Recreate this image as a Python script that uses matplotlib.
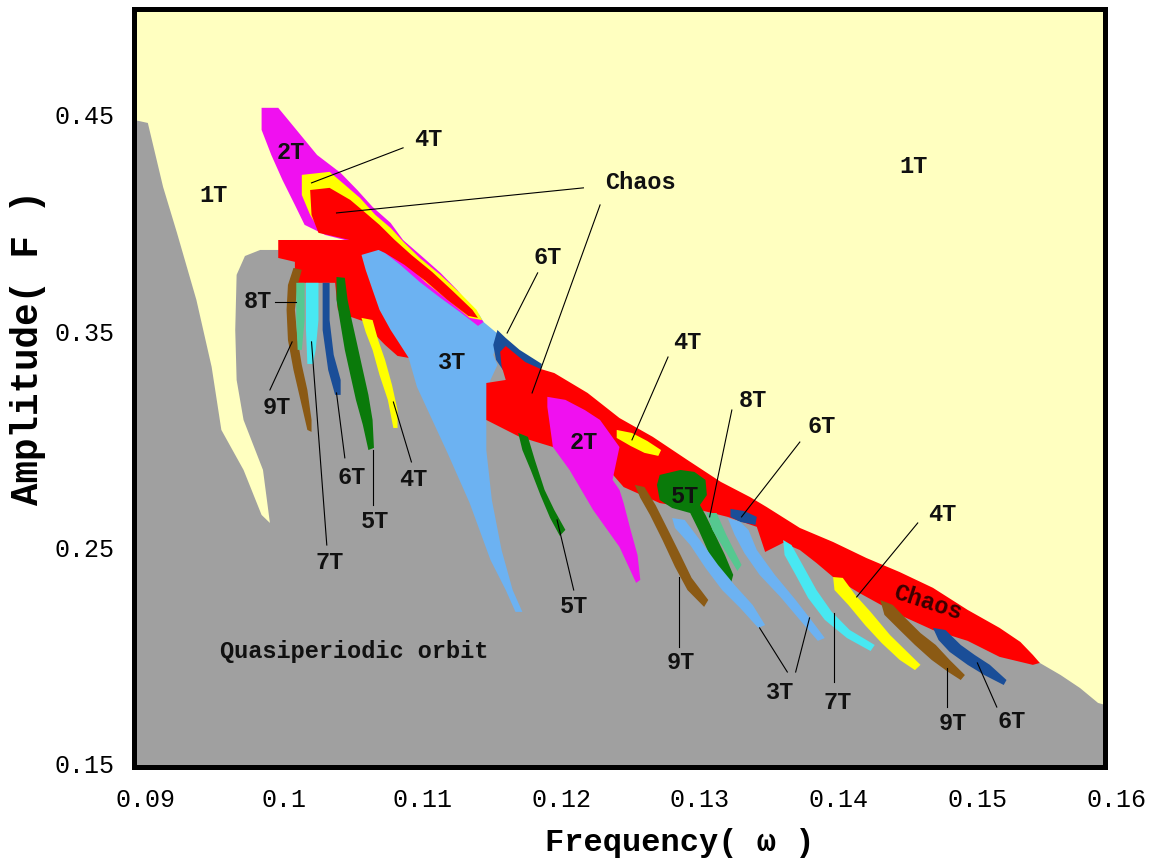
import matplotlib
matplotlib.use("Agg")
import matplotlib.pyplot as plt
from matplotlib.transforms import blended_transform_factory

# === Colours of the orbit types ===
PALE = "#FFFFC0"     # 1T background
GRAY = "#A0A0A0"     # quasiperiodic
RED = "#FF0000"      # chaos
MAGENTA = "#F010F0"  # 2T
YELLOW = "#FFFF00"   # 4T
LBLUE = "#6CB2F2"    # 3T
DBLUE = "#1A4E98"    # 6T
GREEN = "#0A7A0A"    # 5T
MINT = "#55C890"     # 8T
CYAN = "#48E8F2"     # 7T
BROWN = "#8B5A14"    # 9T

# === Region outlines, (omega, F) pairs ===
quasi = [(0.0892, 0.4477), (0.0902, 0.4463), (0.0913, 0.4167), (0.0923, 0.3955), (0.0937, 0.3645),
         (0.0948, 0.3335), (0.0955, 0.3044), (0.0971, 0.2859), (0.0984, 0.2651), (0.0990, 0.2614),
         (0.0985, 0.2859), (0.0971, 0.3090), (0.0966, 0.3275), (0.0965, 0.3506), (0.0966, 0.3761),
         (0.0972, 0.3848), (0.0983, 0.3876), (0.1005, 0.3876), (0.1073, 0.3899), (0.1141, 0.3562),
         (0.1156, 0.3437), (0.1178, 0.3206), (0.1228, 0.3044), (0.1300, 0.2767), (0.1372, 0.2535),
         (0.1444, 0.2281), (0.1516, 0.2073), (0.1545, 0.1967), (0.1560, 0.1911), (0.1574, 0.1851),
         (0.1587, 0.1782), (0.1592, 0.1773), (0.1592, 0.1486), (0.0892, 0.1486)]

blue_3t = [(0.1056, 0.3890), (0.1073, 0.3876), (0.1098, 0.3821), (0.1120, 0.3714), (0.1141, 0.3576),
           (0.1144, 0.3543), (0.1156, 0.3479), (0.1154, 0.3437), (0.1151, 0.3391), (0.1154, 0.3344),
           (0.1149, 0.3275), (0.1146, 0.3183), (0.1146, 0.3090), (0.1146, 0.2951), (0.1150, 0.2720),
           (0.1157, 0.2489), (0.1165, 0.2304), (0.1172, 0.2203), (0.1167, 0.2203), (0.1160, 0.2304),
           (0.1149, 0.2443), (0.1134, 0.2706), (0.1118, 0.2938), (0.1096, 0.3243), (0.1090, 0.3377),
           (0.1084, 0.3437), (0.1077, 0.3506), (0.1069, 0.3599), (0.1064, 0.3691), (0.1059, 0.3784),
           (0.1056, 0.3853)]

tongue_2t = [(0.0984, 0.4533), (0.0996, 0.4533), (0.1005, 0.4463), (0.1024, 0.4315), (0.1041, 0.4232),
             (0.1053, 0.4153), (0.1064, 0.4075), (0.1077, 0.4001), (0.1086, 0.3922), (0.1100, 0.3844),
             (0.1113, 0.3770), (0.1125, 0.3691), (0.1134, 0.3622), (0.1144, 0.3543), (0.1140, 0.3525),
             (0.1127, 0.3589), (0.1113, 0.3654), (0.1098, 0.3728), (0.1084, 0.3807), (0.1073, 0.3862),
             (0.1062, 0.3899), (0.1044, 0.3922), (0.1030, 0.3945), (0.1015, 0.3992), (0.1008, 0.4084),
             (0.0999, 0.4200), (0.0991, 0.4315), (0.0984, 0.4431)]

tongue_4t = [(0.1013, 0.4223), (0.1033, 0.4237), (0.1044, 0.4177), (0.1055, 0.4116), (0.1066, 0.4038),
             (0.1077, 0.3978), (0.1087, 0.3908), (0.1098, 0.3839), (0.1113, 0.3760), (0.1127, 0.3677),
             (0.1139, 0.3599), (0.1143, 0.3552), (0.1134, 0.3562), (0.1120, 0.3636), (0.1102, 0.3728),
             (0.1087, 0.3821), (0.1073, 0.3876), (0.1062, 0.3918), (0.1044, 0.3941), (0.1026, 0.3964),
             (0.1019, 0.4038), (0.1013, 0.4130)]

tongue_chaos = [(0.1019, 0.4153), (0.1033, 0.4163), (0.1048, 0.4107), (0.1059, 0.4047), (0.1069, 0.3992),
                (0.1080, 0.3922), (0.1092, 0.3853), (0.1107, 0.3774), (0.1121, 0.3691), (0.1136, 0.3599),
                (0.1140, 0.3562), (0.1133, 0.3571), (0.1118, 0.3645), (0.1102, 0.3733), (0.1087, 0.3807),
                (0.1073, 0.3862), (0.1059, 0.3904), (0.1041, 0.3932), (0.1025, 0.3955), (0.1020, 0.4038)]

block_chaos = [(0.0996, 0.3922), (0.1064, 0.3922), (0.1073, 0.3885), (0.1056, 0.3853), (0.1059, 0.3784),
               (0.1064, 0.3691), (0.1069, 0.3599), (0.1077, 0.3506), (0.1084, 0.3437), (0.1090, 0.3377),
               (0.1082, 0.3386), (0.1073, 0.3437), (0.1066, 0.3483), (0.1059, 0.3543), (0.1044, 0.3576),
               (0.1039, 0.3599), (0.1037, 0.3724), (0.1008, 0.3724), (0.1008, 0.3821), (0.0996, 0.3839)]

hook_6t = [(0.1154, 0.3506), (0.1160, 0.3469), (0.1170, 0.3414), (0.1186, 0.3349), (0.1185, 0.3303),
           (0.1170, 0.3312), (0.1158, 0.3321), (0.1153, 0.3368), (0.1151, 0.3437)]

band_chaos = [(0.1146, 0.3261), (0.1160, 0.3275), (0.1157, 0.3340), (0.1156, 0.3405), (0.1160, 0.3432),
              (0.1167, 0.3395), (0.1174, 0.3358), (0.1185, 0.3326), (0.1195, 0.3307), (0.1219, 0.3215),
              (0.1242, 0.3099), (0.1266, 0.3012), (0.1291, 0.2905), (0.1315, 0.2804), (0.1336, 0.2734),
              (0.1348, 0.2688), (0.1372, 0.2591), (0.1396, 0.2526), (0.1420, 0.2452), (0.1444, 0.2387),
              (0.1468, 0.2314), (0.1493, 0.2212), (0.1516, 0.2129), (0.1531, 0.2064), (0.1540, 0.2004),
              (0.1545, 0.1967), (0.1540, 0.1958), (0.1516, 0.1995), (0.1493, 0.2069), (0.1468, 0.2119),
              (0.1444, 0.2189), (0.1432, 0.2230), (0.1415, 0.2290), (0.1396, 0.2364), (0.1384, 0.2429),
              (0.1372, 0.2489), (0.1360, 0.2522), (0.1347, 0.2480), (0.1341, 0.2596), (0.1320, 0.2642),
              (0.1300, 0.2674), (0.1271, 0.2706), (0.1245, 0.2780), (0.1228, 0.2905), (0.1194, 0.2965),
              (0.1170, 0.3012), (0.1146, 0.3090)]

mid_2t = [(0.1190, 0.3197), (0.1203, 0.3183), (0.1217, 0.3136), (0.1228, 0.3090), (0.1242, 0.2965),
          (0.1237, 0.2813), (0.1242, 0.2767), (0.1245, 0.2706), (0.1250, 0.2582), (0.1255, 0.2466),
          (0.1257, 0.2351), (0.1254, 0.2337), (0.1242, 0.2503), (0.1223, 0.2674), (0.1206, 0.2859),
          (0.1194, 0.2965), (0.1190, 0.3150)]

mid_4t = [(0.1240, 0.3044), (0.1251, 0.3030), (0.1262, 0.2993), (0.1272, 0.2951), (0.1270, 0.2924),
          (0.1260, 0.2938), (0.1250, 0.2970), (0.1240, 0.3007)]

mid_5t_blob = [(0.1271, 0.2836), (0.1286, 0.2859), (0.1296, 0.2850), (0.1304, 0.2813), (0.1305, 0.2743),
               (0.1300, 0.2697), (0.1304, 0.2651), (0.1311, 0.2559), (0.1318, 0.2466), (0.1324, 0.2374),
               (0.1322, 0.2327), (0.1316, 0.2360), (0.1307, 0.2466), (0.1299, 0.2582), (0.1293, 0.2660),
               (0.1280, 0.2683), (0.1271, 0.2720), (0.1269, 0.2790)]

mid_8t = [(0.1305, 0.2660), (0.1312, 0.2660), (0.1319, 0.2559), (0.1330, 0.2420), (0.1327, 0.2392),
          (0.1320, 0.2466), (0.1309, 0.2582)]

mid_6t = [(0.1322, 0.2679), (0.1332, 0.2669), (0.1341, 0.2642), (0.1340, 0.2605), (0.1329, 0.2619),
          (0.1322, 0.2642)]

low_3t_a = [(0.1280, 0.2637), (0.1289, 0.2628), (0.1300, 0.2535), (0.1313, 0.2420), (0.1325, 0.2327),
            (0.1338, 0.2235), (0.1347, 0.2142), (0.1342, 0.2129), (0.1329, 0.2221), (0.1316, 0.2304),
            (0.1304, 0.2406), (0.1293, 0.2512), (0.1282, 0.2591)]

low_3t_b = [(0.1320, 0.2637), (0.1329, 0.2619), (0.1335, 0.2582), (0.1341, 0.2489), (0.1354, 0.2374),
            (0.1369, 0.2258), (0.1383, 0.2142), (0.1390, 0.2082), (0.1385, 0.2069), (0.1372, 0.2166),
            (0.1358, 0.2272), (0.1343, 0.2374), (0.1332, 0.2475), (0.1325, 0.2559)]

low_7t = [(0.1360, 0.2535), (0.1366, 0.2512), (0.1374, 0.2420), (0.1384, 0.2304), (0.1395, 0.2203),
          (0.1408, 0.2119), (0.1426, 0.2050), (0.1423, 0.2022), (0.1406, 0.2082), (0.1390, 0.2166),
          (0.1378, 0.2267), (0.1369, 0.2374), (0.1361, 0.2466)]

low_4t = [(0.1396, 0.2364), (0.1403, 0.2360), (0.1412, 0.2281), (0.1423, 0.2203), (0.1437, 0.2096),
          (0.1448, 0.2027), (0.1459, 0.1958), (0.1455, 0.1934), (0.1444, 0.1981), (0.1431, 0.2059),
          (0.1419, 0.2142), (0.1407, 0.2235), (0.1397, 0.2304)]

low_9t = [(0.1430, 0.2258), (0.1439, 0.2235), (0.1448, 0.2175), (0.1459, 0.2105), (0.1470, 0.2050),
          (0.1480, 0.1981), (0.1491, 0.1911), (0.1488, 0.1888), (0.1479, 0.1925), (0.1467, 0.1981),
          (0.1455, 0.2050), (0.1444, 0.2119), (0.1433, 0.2189)]

low_6t = [(0.1468, 0.2129), (0.1477, 0.2119), (0.1488, 0.2050), (0.1498, 0.2004), (0.1509, 0.1958),
          (0.1521, 0.1888), (0.1519, 0.1865), (0.1505, 0.1911), (0.1493, 0.1958), (0.1480, 0.2018),
          (0.1472, 0.2073)]

mid_9t = [(0.1253, 0.2790), (0.1260, 0.2780), (0.1268, 0.2697), (0.1277, 0.2582), (0.1286, 0.2466),
          (0.1294, 0.2360), (0.1306, 0.2258), (0.1303, 0.2226), (0.1291, 0.2304), (0.1282, 0.2411),
          (0.1273, 0.2535), (0.1264, 0.2651), (0.1257, 0.2730)]

mid_5t = [(0.1169, 0.3030), (0.1176, 0.3012), (0.1181, 0.2905), (0.1188, 0.2767), (0.1195, 0.2674),
          (0.1203, 0.2582), (0.1199, 0.2554), (0.1192, 0.2637), (0.1185, 0.2743), (0.1178, 0.2859),
          (0.1172, 0.2951)]

left_9t = [(0.1007, 0.3793), (0.1013, 0.3784), (0.1010, 0.3714), (0.1008, 0.3599), (0.1010, 0.3460),
           (0.1013, 0.3344), (0.1017, 0.3229), (0.1020, 0.3090), (0.1020, 0.3035), (0.1017, 0.3044),
           (0.1012, 0.3183), (0.1007, 0.3321), (0.1003, 0.3460), (0.1002, 0.3599), (0.1003, 0.3714)]

left_8t = [(0.1009, 0.3724), (0.1015, 0.3724), (0.1015, 0.3552), (0.1013, 0.3414), (0.1010, 0.3414),
           (0.1009, 0.3552)]

left_7t = [(0.1016, 0.3724), (0.1025, 0.3724), (0.1025, 0.3552), (0.1023, 0.3414), (0.1021, 0.3349),
           (0.1017, 0.3349), (0.1016, 0.3506)]

left_6t = [(0.1028, 0.3724), (0.1033, 0.3724), (0.1033, 0.3552), (0.1036, 0.3391), (0.1041, 0.3275),
           (0.1041, 0.3206), (0.1037, 0.3206), (0.1032, 0.3321), (0.1028, 0.3506)]

left_5t = [(0.1038, 0.3751), (0.1044, 0.3747), (0.1046, 0.3645), (0.1049, 0.3552), (0.1053, 0.3437),
           (0.1057, 0.3321), (0.1061, 0.3206), (0.1064, 0.3090), (0.1065, 0.2961), (0.1061, 0.2951),
           (0.1057, 0.3067), (0.1052, 0.3183), (0.1048, 0.3298), (0.1044, 0.3414), (0.1041, 0.3529),
           (0.1038, 0.3645)]

left_4t = [(0.1056, 0.3562), (0.1064, 0.3552), (0.1068, 0.3460), (0.1073, 0.3368), (0.1078, 0.3252),
           (0.1082, 0.3136), (0.1082, 0.3053), (0.1079, 0.3053), (0.1075, 0.3183), (0.1069, 0.3298),
           (0.1064, 0.3414), (0.1059, 0.3497)]

# drawing order matters: later regions sit on top
regions = [
    (quasi, GRAY), (blue_3t, LBLUE),
    (tongue_2t, MAGENTA), (tongue_4t, YELLOW), (tongue_chaos, RED),
    (block_chaos, RED), (hook_6t, DBLUE), (band_chaos, RED),
    (mid_2t, MAGENTA), (mid_4t, YELLOW), (mid_5t_blob, GREEN), (mid_8t, MINT), (mid_6t, DBLUE),
    (low_3t_a, LBLUE), (low_3t_b, LBLUE), (low_7t, CYAN), (low_4t, YELLOW), (low_9t, BROWN),
    (low_6t, DBLUE), (mid_9t, BROWN), (mid_5t, GREEN),
    (left_9t, BROWN), (left_8t, MINT), (left_7t, CYAN), (left_6t, DBLUE), (left_5t, GREEN),
    (left_4t, YELLOW),
]

# === Leader lines from labels to regions ===
leaders = [
    ((0.1086, 0.4348), (0.1020, 0.4186)), ((0.1216, 0.4163), (0.1038, 0.4047)),
    ((0.1228, 0.4084), (0.1179, 0.3215)), ((0.1183, 0.3770), (0.1161, 0.3492)),
    ((0.1277, 0.3381), (0.1251, 0.2998)), ((0.1323, 0.3136), (0.1307, 0.2642)),
    ((0.1372, 0.2988), (0.1330, 0.2642)), ((0.0994, 0.3636), (0.1009, 0.3636)),
    ((0.0990, 0.3229), (0.1006, 0.3451)), ((0.1031, 0.2512), (0.1020, 0.3451)),
    ((0.1044, 0.2915), (0.1038, 0.3215)), ((0.1064, 0.2697), (0.1064, 0.2951)),
    ((0.1092, 0.2896), (0.1079, 0.3173)), ((0.1209, 0.2304), (0.1197, 0.2628)),
    ((0.1285, 0.2041), (0.1285, 0.2364)), ((0.1363, 0.1925), (0.1343, 0.2129)),
    ((0.1369, 0.1925), (0.1379, 0.2175)), ((0.1397, 0.1879), (0.1397, 0.2198)),
    ((0.1457, 0.2614), (0.1413, 0.2272)), ((0.1478, 0.1763), (0.1478, 0.1944)),
    ((0.1514, 0.1763), (0.1500, 0.1967)),
]

# === Region labels (text, omega, F) ===
labels = [
    ("1T", 0.0949, 0.4126), ("1T", 0.1454, 0.4260), ("2T", 0.1005, 0.4325), ("4T", 0.1104, 0.4385),
    ("Chaos", 0.1257, 0.4186), ("6T", 0.1190, 0.3839), ("8T", 0.0981, 0.3636), ("3T", 0.1121, 0.3358),
    ("9T", 0.0995, 0.3146), ("6T", 0.1049, 0.2822), ("4T", 0.1093, 0.2813), ("5T", 0.1066, 0.2619),
    ("7T", 0.1033, 0.2429), ("4T", 0.1291, 0.3446), ("2T", 0.1216, 0.2984), ("5T", 0.1289, 0.2734),
    ("8T", 0.1338, 0.3178), ("6T", 0.1388, 0.3058), ("5T", 0.1209, 0.2226), ("9T", 0.1286, 0.1971),
    ("3T", 0.1358, 0.1828), ("7T", 0.1399, 0.1786), ("9T", 0.1482, 0.1689), ("6T", 0.1525, 0.1694),
    ("4T", 0.1475, 0.2651),
]
chaos_low = ("Chaos", 0.1464, 0.2244)
quasi_label = ("Quasiperiodic orbit", 0.1051, 0.2018)

x_ticks = [0.09, 0.10, 0.11, 0.12, 0.13, 0.14, 0.15, 0.16]
x_tick_labels = ["0.09", "0.1", "0.11", "0.12", "0.13", "0.14", "0.15", "0.16"]
y_ticks = [0.15, 0.25, 0.35, 0.45]
y_tick_labels = ["0.15", "0.25", "0.35", "0.45"]

FONT = "Liberation Mono"

fig = plt.figure(figsize=(11.49, 8.61), dpi=100)
ax = fig.add_axes([0.1166, 0.1092, 0.8451, 0.8804])
ax.set_facecolor(PALE)
ax.set_xlim(0.0892, 0.1592)
ax.set_ylim(0.1486, 0.4990)

for pts, col in regions:
    ws = [p[0] for p in pts]
    fs = [p[1] for p in pts]
    ax.fill(ws, fs, color=col, lw=0)

for (w1, f1), (w2, f2) in leaders:
    ax.plot([w1, w2], [f1, f2], color="black", lw=0.8)

for txt, w, f in labels:
    ax.text(w, f, txt, ha="center", va="center", fontsize=17, fontweight="bold",
            family=FONT, color="#111111")
ax.text(chaos_low[1], chaos_low[2], chaos_low[0], ha="center", va="center", fontsize=17,
        fontweight="bold", family=FONT, color="#3a0000", rotation=-18)
ax.text(quasi_label[1], quasi_label[2], quasi_label[0], ha="center", va="center", fontsize=17,
        fontweight="bold", family=FONT, color="#111111")

# axis frame and tick labels
for sp in ax.spines.values():
    sp.set_linewidth(3.6)
ax.set_xticks([])
ax.set_yticks(y_ticks)
ax.set_yticklabels(y_tick_labels, family=FONT, fontsize=18)
ax.tick_params(axis="y", length=0, pad=14)

trans = blended_transform_factory(ax.transData, ax.transAxes)
for x, lab in zip(x_ticks, x_tick_labels):
    ax.text(x, -0.044, lab, transform=trans, ha="center", va="center",
            family=FONT, fontsize=18, clip_on=False)

ax.text(0.562, -0.100, "Frequency( \u03c9 )", transform=ax.transAxes, ha="center", va="center",
        family=FONT, fontsize=23, fontweight="bold")
ax.text(-0.109, 0.554, "Amplitude( F )", transform=ax.transAxes, ha="center", va="center",
        family=FONT, fontsize=27, fontweight="bold", rotation=90)

fig.savefig("out.png", dpi=100)
